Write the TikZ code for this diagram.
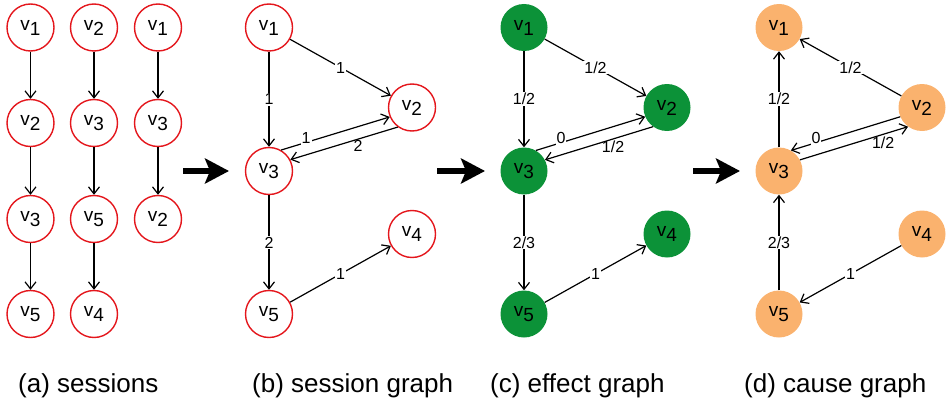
\documentclass[tikz,border=0pt]{standalone}
\usepackage{fontspec}
\setmainfont{Liberation Sans}
\usetikzlibrary{arrows.meta}
\definecolor{ringred}{RGB}{228,22,28}
\definecolor{effgreen}{RGB}{12,146,56}
\definecolor{causeorange}{RGB}{250,178,110}
\newcommand{\vlab}[1]{v\raisebox{-5pt}{#1}}
\begin{document}
\begin{tikzpicture}[x=1pt,y=-1pt,
  vertex/.style={circle, minimum size=47pt, inner sep=0pt, font=\fontsize{19}{19}\selectfont},
  sess/.style={vertex, draw=ringred, line width=1.4pt, fill=white},
  eff/.style={vertex, fill=effgreen},
  cau/.style={vertex, fill=causeorange},
  edge/.style={line width=1.2pt, -{Straight Barb[length=7pt,width=11pt]}},
  wt/.style={fill=white, inner sep=1pt, font=\fontsize{16}{16}\selectfont},
  wtb/.style={inner sep=1pt, font=\fontsize{16}{16}\selectfont},
  bigarrow/.style={line width=6pt, -{Stealth[length=24pt,width=25pt,inset=5pt]}},
  caption/.style={anchor=base west, inner sep=0pt, font=\fontsize{26}{26}\selectfont}]
\useasboundingbox (0,0) rectangle (950,404);

% (a) sessions
\node[sess] (s11) at (30.5,27.5) {\vlab1};
\node[sess] (s12) at (30.5,123) {\vlab2};
\node[sess] (s13) at (30.5,219) {\vlab3};
\node[sess] (s14) at (30.5,314) {\vlab5};
\node[sess] (s21) at (94,27.5) {\vlab2};
\node[sess] (s22) at (94,123) {\vlab3};
\node[sess] (s23) at (94,219) {\vlab5};
\node[sess] (s24) at (94,314) {\vlab4};
\node[sess] (s31) at (158,27.5) {\vlab1};
\node[sess] (s32) at (158,123) {\vlab3};
\node[sess] (s33) at (158,219) {\vlab2};
\draw[edge] (s11) -- (s12);
\draw[edge] (s12) -- (s13);
\draw[edge] (s13) -- (s14);
\draw[edge] (s21) -- (s22);
\draw[edge] (s22) -- (s23);
\draw[edge] (s23) -- (s24);
\draw[edge] (s31) -- (s32);
\draw[edge] (s32) -- (s33);

% (b) session graph
\node[sess] (b1) at (269,27.5) {\vlab1};
\node[sess] (b2) at (412,107.5) {\vlab2};
\node[sess] (b3) at (269,171) {\vlab3};
\node[sess] (b4) at (412,234) {\vlab4};
\node[sess] (b5) at (269,314) {\vlab5};
\draw[edge] (b1) -- node[wt] {1} (b2);
\draw[edge] (b1) -- node[wt] {1} (b3);
\draw[edge] (b3.60) -- node[wt, pos=.23, above=-3pt] {1} (b2.203);
\draw[edge] (b2.234) -- node[wtb, pos=.37, below=0pt] {2} (b3.28);
\draw[edge] (b3) -- node[wt] {2} (b5);
\draw[edge] (b5) -- node[wt] {1} (b4);

% (c) effect graph
\node[eff] (c1) at (524,27.5) {\vlab1};
\node[eff] (c2) at (667,107.5) {\vlab2};
\node[eff] (c3) at (524,171) {\vlab3};
\node[eff] (c4) at (667,234) {\vlab4};
\node[eff] (c5) at (524,314) {\vlab5};
\draw[edge] (c1) -- node[wt] {1/2} (c2);
\draw[edge] (c1) -- node[wt] {1/2} (c3);
\draw[edge] (c3.60) -- node[wt, pos=.23, above=-3pt] {0} (c2.203);
\draw[edge] (c2.234) -- node[wtb, pos=.37, below=0pt] {1/2} (c3.28);
\draw[edge] (c3) -- node[wt] {2/3} (c5);
\draw[edge] (c5) -- node[wt] {1} (c4);

% (d) cause graph
\node[cau] (d1) at (779,27.5) {\vlab1};
\node[cau] (d2) at (922,107.5) {\vlab2};
\node[cau] (d3) at (779,171) {\vlab3};
\node[cau] (d4) at (922,234) {\vlab4};
\node[cau] (d5) at (779,314) {\vlab5};
\draw[edge] (d2) -- node[wt] {1/2} (d1);
\draw[edge] (d3) -- node[wt] {1/2} (d1);
\draw[edge] (d2.203) -- node[wt, pos=.77, above=-3pt] {0} (d3.60);
\draw[edge] (d3.28) -- node[wtb, pos=.77, below=1pt] {1/2} (d2.234);
\draw[edge] (d5) -- node[wt] {2/3} (d3);
\draw[edge] (d4) -- node[wt] {1} (d5);

% transitions between the panels
\coordinate (t1a) at (183,171);
\coordinate (t1b) at (229,171);
\coordinate (t2a) at (437,171);
\coordinate (t2b) at (485,171);
\coordinate (t3a) at (693,171);
\coordinate (t3b) at (740,171);
\draw[bigarrow] (t1a) -- (t1b);
\draw[bigarrow] (t2a) -- (t2b);
\draw[bigarrow] (t3a) -- (t3b);

% captions
\node[caption] (capa) at (18,392) {(a) sessions};
\node[caption] (capb) at (252,392) {(b) session graph};
\node[caption] (capc) at (490,392) {(c) effect graph};
\node[caption] (capd) at (744,392) {(d) cause graph};
\end{tikzpicture}
\end{document}
